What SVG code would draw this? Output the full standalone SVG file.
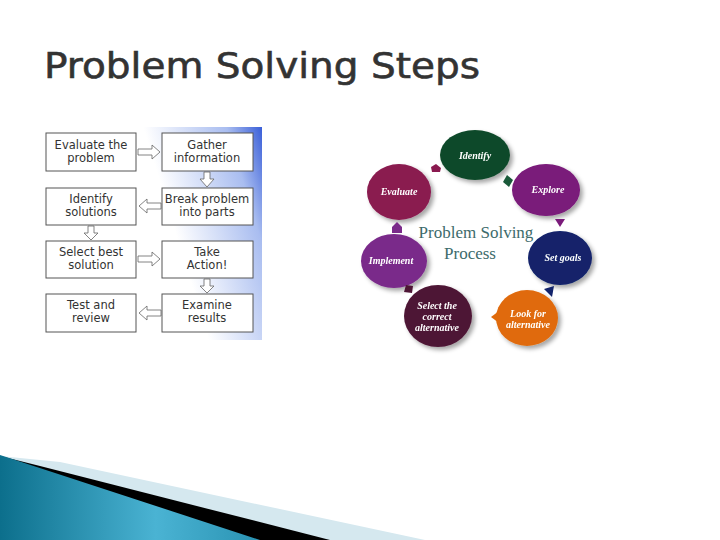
<svg xmlns="http://www.w3.org/2000/svg" width="720" height="540" viewBox="0 0 720 540">
<style>
.t{font-family:"DejaVu Sans",sans-serif;font-size:11.5px;fill:#333;text-anchor:middle}
.b{fill:#fff;stroke:#555;stroke-width:1}
.e{font-family:"Liberation Serif",serif;font-style:italic;font-weight:bold;font-size:10px;fill:#fff;text-anchor:middle}
.ar{fill:#fff;stroke:#666;stroke-width:0.8}
</style>
<defs>
<linearGradient id="bg" x1="0" y1="0.3" x2="1" y2="0"><stop offset="0.5" stop-color="#fff"/><stop offset="0.85" stop-color="#a9bdf0"/><stop offset="1" stop-color="#3a5fd8"/></linearGradient>
<linearGradient id="tl" x1="0" y1="0" x2="1" y2="0"><stop offset="0" stop-color="#0c6f8c"/><stop offset="0.6" stop-color="#4ab3d3"/><stop offset="1" stop-color="#2a93b3"/></linearGradient>
<filter id="sh"><feDropShadow dx="3" dy="3" stdDeviation="2" flood-opacity="0.35"/></filter>
</defs>
<text x="44" y="78" font-family="DejaVu Sans,sans-serif" font-size="36" fill="#333" stroke="#333" stroke-width="0.6" textLength="436" lengthAdjust="spacingAndGlyphs">Problem Solving Steps</text>
<g id="flowchart">
<rect x="44" y="127" width="218" height="213" fill="url(#bg)"/>
<g id="n1"><rect class="b" x="46" y="133" width="90" height="38"/><text class="t" x="91" y="149">Evaluate the</text><text class="t" x="91" y="162">problem</text></g>
<g id="n2"><rect class="b" x="162" y="133" width="91" height="38"/><text class="t" x="207" y="149">Gather</text><text class="t" x="207" y="162">information</text></g>
<g id="n3"><rect class="b" x="46" y="188" width="90" height="37"/><text class="t" x="91" y="203">Identify</text><text class="t" x="91" y="216">solutions</text></g>
<g id="n4"><rect class="b" x="162" y="188" width="91" height="37"/><text class="t" x="207" y="203">Break problem</text><text class="t" x="207" y="216">into parts</text></g>
<g id="n5"><rect class="b" x="46" y="241" width="90" height="37"/><text class="t" x="91" y="256">Select best</text><text class="t" x="91" y="269">solution</text></g>
<g id="n6"><rect class="b" x="162" y="241" width="91" height="37"/><text class="t" x="207" y="256">Take</text><text class="t" x="207" y="269">Action!</text></g>
<g id="n7"><rect class="b" x="46" y="294" width="90" height="38"/><text class="t" x="91" y="309">Test and</text><text class="t" x="91" y="322">review</text></g>
<g id="n8"><rect class="b" x="162" y="294" width="91" height="38"/><text class="t" x="207" y="309">Examine</text><text class="t" x="207" y="322">results</text></g>
<g id="flow-arrows">
<polygon class="ar" points="138,149 152,149 152,145 160,152 152,159 152,155 138,155"/>
<polygon class="ar" points="204,172 210,172 210,179 214,179 207,187 200,179 204,179"/>
<polygon class="ar" points="161,203 147,203 147,199 139,206 147,213 147,209 161,209"/>
<polygon class="ar" points="88,226 94,226 94,233 98,233 91,240 84,233 88,233"/>
<polygon class="ar" points="138,256 152,256 152,252 160,259 152,266 152,262 138,262"/>
<polygon class="ar" points="204,279 210,279 210,286 214,286 207,293 200,286 204,286"/>
<polygon class="ar" points="161,310 147,310 147,306 139,313 147,320 147,316 161,316"/>
</g>
</g>
<g id="cycle">
<rect x="350" y="130" width="268" height="226" fill="#fff"/>
<g filter="url(#sh)">
<g id="c1"><ellipse cx="475" cy="155" rx="35" ry="25" fill="#0f4a2a"/><text class="e" x="475" y="159">Identify</text></g>
<g id="c2"><ellipse cx="546" cy="190" rx="34" ry="26" fill="#7a1a7a"/><text class="e" x="548" y="193">Explore</text></g>
<g id="c3"><ellipse cx="560" cy="258" rx="32" ry="27" fill="#12236b"/><text class="e" x="563" y="261">Set goals</text></g>
<g id="c4"><ellipse cx="527" cy="318" rx="31" ry="28" fill="#e06a0a"/><text class="e" x="528" y="317">Look for</text><text class="e" x="528" y="328">alternative</text></g>
<g id="c5"><ellipse cx="438" cy="316" rx="34" ry="31" fill="#4e1535"/><text class="e" x="437" y="309">Select the</text><text class="e" x="437" y="320">correct</text><text class="e" x="437" y="331">alternative</text></g>
<g id="c6"><ellipse cx="394" cy="261" rx="33" ry="27" fill="#7a2a8a"/><text class="e" x="391" y="264">Implement</text></g>
<g id="c7"><ellipse cx="399" cy="192" rx="32" ry="28" fill="#8a1a50"/><text class="e" x="399" y="195">Evaluate</text></g>
</g>
<g id="cycle-arrows">
<polygon points="507,175 513,180 509,187 503,182" fill="#1a5a3a"/>
<polygon points="555,219 565,219 560,227" fill="#7a1a7a"/>
<polygon points="544,289 554,286 552,297" fill="#12236b"/>
<polygon points="491,317 499,311 499,323" fill="#e06a0a"/>
<polygon points="406,285 413,286 412,293 404,292" fill="#4e1535"/>
<polygon points="392,227 397,222 402,227 402,233 392,233" fill="#7a2a8a"/>
<polygon points="431,167 436,164 441,168 440,172 432,172" fill="#8a1a50"/>
</g>
<text x="476" y="238" font-family="Liberation Serif,serif" font-size="17" fill="#3d6b6b" text-anchor="middle">Problem Solving</text>
<text x="470" y="259" font-family="Liberation Serif,serif" font-size="17" fill="#3d6b6b" text-anchor="middle">Process</text>
</g>
<g id="decoration">
<polygon points="0,456 60,462 425,540 0,540" fill="#d5e8ef"/>
<polygon points="0,456 40,466 330,540 0,540" fill="#000"/>
<polygon points="0,455 260,540 0,540" fill="url(#tl)"/>
</g>
</svg>
